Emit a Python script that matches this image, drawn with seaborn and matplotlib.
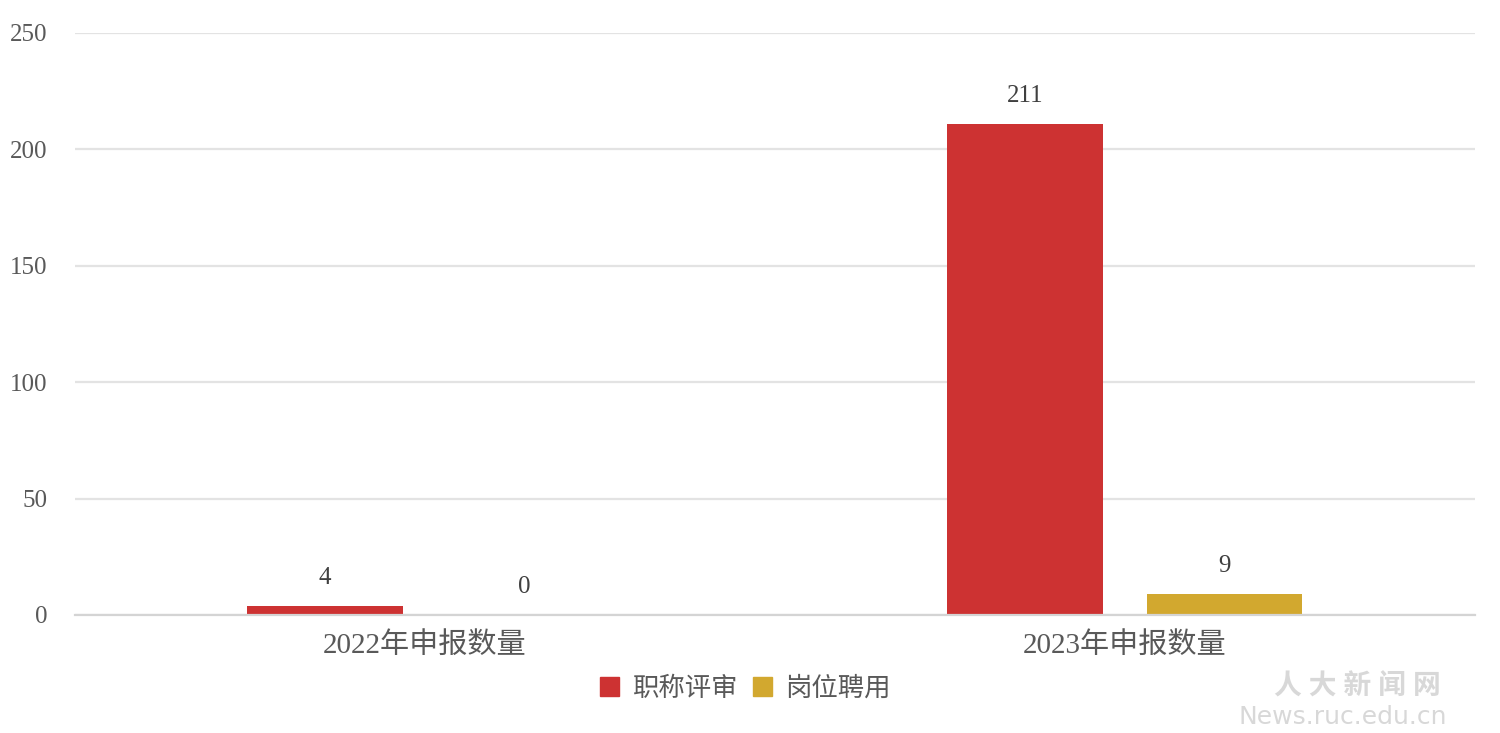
import pandas as pd
import matplotlib
matplotlib.use("Agg")
import matplotlib.pyplot as plt
import seaborn as sns

# --- data ---
categories = ["2022年申报数量", "2023年申报数量"]
series_names = ["职称评审", "岗位聘用"]
title_review = [4, 211]      # 职称评审
post_hiring = [0, 9]         # 岗位聘用
y_ticks = [0, 50, 100, 150, 200, 250]

colors = ["#CD3232", "#D2A82F"]
text_gray = "#595959"

df = pd.DataFrame({
    "类别": categories * 2,
    "系列": [series_names[0]] * 2 + [series_names[1]] * 2,
    "数量": title_review + post_hiring,
})

sns.set_theme(style="white")
plt.rcParams["font.family"] = ["Liberation Serif", "Noto Sans CJK SC", "DejaVu Sans"]

fig = plt.figure(figsize=(15, 7.33), dpi=100)
ax = fig.add_axes([0.05, 0.161, 0.933, 0.794])

sns.barplot(data=df, x="类别", y="数量", hue="系列", palette=colors,
            width=0.57, gap=0.22, ax=ax, legend=False, saturation=1,
            linewidth=0)

# data labels
for cont in ax.containers:
    ax.bar_label(cont, padding=12, fontsize=18, color="#404040")

ax.set_ylim(0, 250)
ax.set_xlim(-0.5, 1.5)
ax.set_yticks(y_ticks)
ax.set_xlabel("")
ax.set_ylabel("")
ax.yaxis.grid(True, color="#E3E3E3", linewidth=1.6)
ax.set_axisbelow(True)
for s in ["top", "right", "left"]:
    ax.spines[s].set_visible(False)
ax.spines["bottom"].set_color("#D4D4D4")
ax.spines["bottom"].set_linewidth(1.6)
ax.tick_params(axis="y", length=0, labelsize=18, labelcolor=text_gray, pad=20)
ax.tick_params(axis="x", length=0, labelsize=21, labelcolor=text_gray, pad=12)
ax.yaxis.set_tick_params(which="both", left=False)

# legend
handles = [plt.Rectangle((0, 0), 1, 1, color=c) for c in colors]
fig.legend(handles, series_names, loc="center", bbox_to_anchor=(0.497, 0.061),
           ncol=2, frameon=False, fontsize=19, labelcolor=text_gray,
           handlelength=0.7, handleheight=0.7, handletextpad=0.5,
           columnspacing=0.6)

# watermark
fig.text(0.905, 0.062, "人 大 新 闻 网", fontsize=20, color="#D8D8D8",
         ha="center", va="center", fontweight="bold")
fig.text(0.895, 0.022, "News.ruc.edu.cn", fontsize=18, color="#D8D8D8",
         ha="center", va="center", family=["DejaVu Sans"])

fig.savefig("out.png", dpi=100)
